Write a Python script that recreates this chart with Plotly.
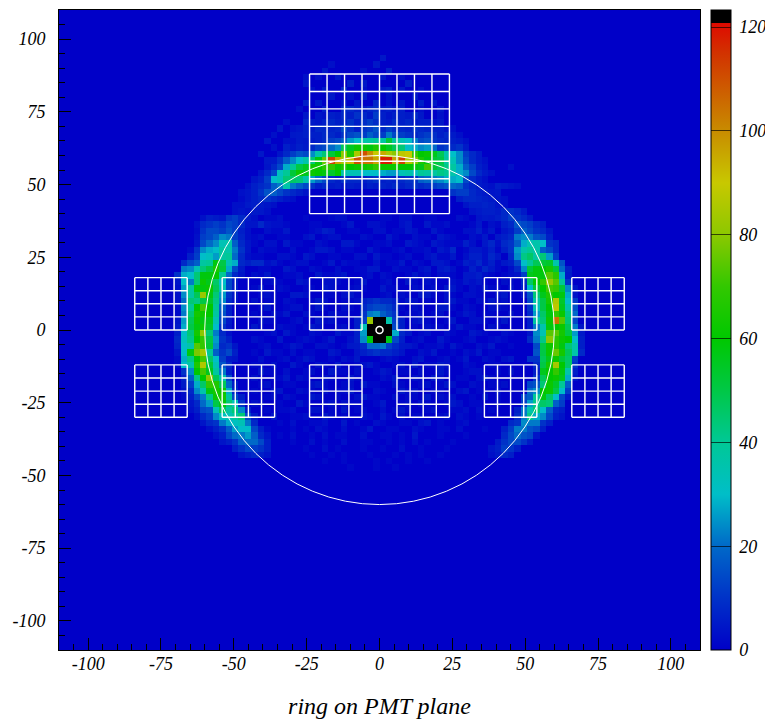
import plotly.graph_objects as go

N_BINS = 100
AXIS_MIN, AXIS_MAX = -110.0, 110.0
BIN_WIDTH = 2.2
Z_MAX = 123.3
RING_RADIUS = 60.0
CENTER_RADIUS = 1.2
COLORBAR_TICKS = [0, 20, 40, 60, 80, 100, 120]
AXIS_TICKS = [-100, -75, -50, -25, 0, 25, 50, 75, 100]
X_TITLE = "ring on PMT plane"

# row index: (first column, cell counts)
TOP_ARC = {
 84: (44, [5, 8, 6, 4, 7, 9, 5, 6, 4, 3]),
 83: (40, [4, 3, 6, 5, 8, 6, 10, 7, 5, 12, 6, 4, 3, 6, 5, 8, 4]),
 82: (38, [3, 5, 4, 6, 8, 5, 7, 10, 6, 8, 12, 9, 6, 5, 8, 6, 7, 5, 6, 4, 3]),
 81: (36, [3, 4, 6, 5, 8, 6, 7, 8, 14, 10, 6, 10, 12, 16, 8, 12, 9, 8, 7, 10, 8, 7, 6, 5, 4]),
 80: (36, [4, 5, 3, 6, 6, 8, 8, 6, 10, 14, 16, 12, 18, 14, 12, 22, 14, 12, 10, 8, 10, 12, 9, 6, 8, 5, 3]),
 79: (36, [3, 5, 4, 5, 6, 8, 12, 14, 18, 26, 30, 36, 38, 40, 38, 52, 38, 34, 30, 22, 14, 16, 10, 8, 7, 6, 5, 3]),
 78: (35, [3, 4, 6, 5, 8, 12, 14, 20, 24, 48, 55, 62, 62, 58, 66, 60, 55, 48, 44, 30, 28, 24, 26, 20, 10, 12, 8, 10, 5]),
 77: (34, [4, 8, 12, 16, 14, 24, 36, 44, 52, 60, 80, 65, 85, 110, 100, 90, 95, 85, 80, 88, 90, 70, 60, 62, 56, 48, 36, 30, 24, 12, 8, 5]),
 76: (33, [5, 10, 18, 24, 30, 36, 44, 58, 76, 112, 96, 84, 92, 110, 104, 104, 96, 118, 118, 96, 112, 86, 78, 66, 58, 52, 50, 38, 34, 24, 14, 8, 5, 3]),
 75: (32, [4, 8, 14, 28, 40, 50, 55, 62, 62, 68, 70, 62, 66, 60, 62, 62, 64, 70, 62, 62, 62, 60, 60, 58, 56, 72, 52, 48, 42, 38, 28, 18, 12, 6, 4]),
 74: (31, [4, 8, 14, 32, 40, 52, 62, 56, 62, 60, 58, 54, 60, 36, 34, 34, 30, 30, 30, 28, 26, 26, 34, 36, 32, 40, 38, 38, 42, 40, 36, 28, 24, 14, 8, 5, 3]),
 73: (30, [4, 6, 12, 30, 34, 44, 46, 44, 36, 26, 20, 14, 8, 6, 10, 8, 8, 6, 8, 10, 6, 7, 6, 8, 10, 10, 18, 20, 22, 24, 28, 28, 30, 14, 8, 5, 3]),
 72: (29, [3, 6, 8, 10, 18, 22, 36, 22, 18, 14, 10, 6, 8, 5, 6, 4, 6, 5, 4, 6, 5, 7, 6, 8, 6, 8, 10, 8, 10, 12, 14, 16, 20, 18, 10, 7, 5, 4, 3]),
 71: (28, [3, 4, 6, 10, 16, 18, 14, 10, 8, 6, 4]),
 70: (28, [2, 4, 6, 8, 10, 8, 6, 4, 3]),
 69: (27, [3, 3, 5, 6, 5, 4, 3]),
 68: (27, [3, 4, 3, 5, 3, 3]),
}
TOP_ARC_RIGHT_TAIL = {
 72: (68, [6, 5, 4, 3]),
 71: (61, [10, 12, 12, 8, 6, 5, 4, 3]),
 70: (62, [6, 8, 8, 7, 6, 5, 4, 3]),
 69: (63, [4, 6, 6, 7, 6, 4, 3]),
 68: (64, [4, 5, 6, 6, 5, 4, 3]),
 67: (65, [4, 5, 4, 6, 5, 4, 3]),
}
LEFT_ARC = {
 67: (22, [3, 6, 5, 4, 10, 12, 8, 5, 3]),
 66: (21, [3, 8, 10, 12, 10, 14, 12, 8, 4, 4, 8, 4]),
 65: (21, [2, 10, 14, 14, 12, 16, 12, 6, 3]),
 64: (21, [3, 12, 14, 18, 24, 22, 12, 7, 3]),
 63: (21, [4, 14, 20, 24, 34, 36, 18, 8, 4]),
 62: (20, [2, 10, 24, 28, 30, 38, 36, 22, 10, 4]),
 61: (20, [6, 12, 30, 32, 26, 38, 40, 20, 8, 3]),
 60: (19, [8, 14, 18, 38, 40, 58, 50, 34, 28, 8, 6, 8, 8, 3]),
 59: (19, [22, 24, 34, 44, 50, 64, 52, 28, 14, 5]),
 58: (18, [10, 28, 30, 44, 58, 58, 60, 40, 20, 8, 4]),
 57: (18, [4, 30, 22, 44, 62, 56, 46, 30, 14, 6]),
 56: (18, [3, 26, 38, 58, 58, 62, 48, 34, 14, 6]),
 55: (18, [3, 24, 38, 48, 82, 58, 44, 26, 10, 5]),
 54: (18, [3, 20, 44, 42, 50, 54, 42, 24, 8, 4]),
 53: (18, [2, 24, 40, 60, 72, 60, 40, 18, 6]),
 52: (18, [2, 22, 44, 64, 62, 60, 38, 16, 6]),
 51: (18, [4, 26, 48, 62, 58, 56, 34, 14, 5]),
 50: (18, [5, 28, 50, 58, 62, 54, 30, 10, 4]),
 49: (18, [6, 30, 44, 64, 80, 44, 22, 8, 3]),
 48: (18, [8, 32, 42, 60, 70, 50, 26, 10, 6]),
 47: (18, [7, 30, 36, 74, 70, 52, 24, 8, 10, 4]),
 46: (18, [4, 30, 58, 78, 84, 40, 18, 10, 14, 6]),
 45: (18, [2, 28, 42, 60, 72, 46, 30, 12, 5, 4]),
 44: (18, [2, 30, 36, 66, 86, 52, 34, 16, 8]),
 43: (19, [10, 24, 60, 72, 56, 38, 22, 6]),
 42: (19, [6, 18, 42, 60, 80, 48, 36, 14]),
 41: (19, [5, 12, 28, 46, 70, 66, 48, 20, 6]),
 40: (19, [3, 8, 24, 36, 58, 64, 62, 28, 8]),
 39: (19, [2, 6, 14, 22, 42, 62, 64, 38, 14, 6]),
 38: (20, [4, 8, 20, 26, 50, 58, 44, 34, 10]),
 37: (20, [3, 6, 14, 16, 34, 48, 38, 44, 24, 6]),
 36: (21, [3, 8, 12, 24, 32, 34, 38, 44, 14, 5]),
 35: (22, [4, 8, 10, 22, 28, 32, 34, 22, 8]),
 34: (23, [3, 6, 10, 18, 26, 30, 30, 14, 6]),
 33: (24, [3, 6, 14, 20, 22, 26, 18, 8, 4]),
 32: (25, [4, 6, 10, 18, 20, 20, 14, 6]),
 31: (27, [6, 10, 14, 12, 10, 6]),
 30: (28, [4, 6, 8, 6, 4]),
}
RIGHT_ARC = {
 68: (68, [4, 8, 10, 8, 5]),
 67: (69, [8, 12, 10, 8, 5]),
 66: (69, [6, 8, 16, 14, 12, 8, 6]),
 65: (69, [4, 6, 12, 18, 14, 10, 8, 4]),
 64: (69, [6, 8, 22, 24, 22, 16, 14, 6]),
 63: (69, [8, 10, 18, 28, 34, 36, 30, 10, 8]),
 62: (69, [6, 10, 26, 36, 40, 36, 18, 14, 8]),
 61: (70, [8, 24, 42, 46, 38, 44, 26, 12]),
 60: (70, [6, 14, 30, 40, 48, 52, 54, 36, 16]),
 59: (71, [8, 24, 52, 58, 60, 64, 52, 20, 6]),
 58: (71, [4, 12, 56, 58, 58, 74, 68, 28, 5]),
 57: (72, [8, 46, 60, 70, 82, 74, 40, 10]),
 56: (72, [6, 30, 52, 60, 72, 70, 52, 24, 4]),
 55: (72, [4, 16, 44, 56, 66, 60, 58, 28, 4]),
 54: (73, [14, 38, 50, 64, 86, 54, 30, 12]),
 53: (73, [10, 34, 50, 60, 88, 56, 36, 16]),
 52: (73, [8, 26, 46, 58, 70, 62, 42, 20]),
 51: (73, [6, 38, 44, 62, 104, 74, 44, 14]),
 50: (73, [6, 22, 36, 58, 60, 62, 48, 22, 4]),
 49: (73, [4, 24, 34, 74, 74, 64, 50, 26, 5]),
 48: (73, [8, 22, 42, 80, 68, 62, 60, 30, 6]),
 47: (74, [14, 50, 62, 68, 58, 44, 36, 6]),
 46: (74, [16, 50, 62, 76, 64, 48, 36, 8]),
 45: (73, [10, 10, 48, 56, 62, 52, 46, 12]),
 44: (74, [8, 50, 64, 84, 60, 46, 10]),
 43: (74, [6, 56, 60, 70, 58, 36, 6]),
 42: (74, [10, 48, 60, 62, 56, 28, 4]),
 41: (73, [14, 16, 44, 62, 54, 40, 18]),
 40: (73, [20, 24, 60, 62, 50, 30, 12]),
 39: (72, [14, 18, 40, 58, 46, 30, 14, 5]),
 38: (72, [12, 26, 42, 46, 44, 18, 12]),
 37: (71, [6, 22, 36, 44, 30, 18, 8, 6]),
 36: (71, [8, 22, 42, 28, 24, 14, 6, 4]),
 35: (70, [8, 10, 24, 22, 22, 10, 6]),
 34: (69, [6, 12, 22, 22, 16, 14, 6]),
 33: (69, [8, 14, 20, 16, 14, 4]),
 32: (68, [5, 10, 14, 14, 10, 5]),
 31: (67, [4, 6, 12, 10, 6]),
 30: (67, [3, 5, 8, 6]),
}
CENTER_CELLS = {
 54: (47, [6, 8, 10, 8, 8, 6]),
 53: (47, [8, 12, 14, 14, 12, 8]),
 52: (47, [10, 22, 24, 18, 14, 10]),
 51: (46, [6, 12, 82, 130, 130, 36, 12, 6]),
 50: (46, [6, 34, 130, 130, 130, 130, 14, 6]),
 49: (46, [6, 26, 130, 130, 130, 130, 28, 8]),
 48: (46, [6, 24, 58, 130, 130, 56, 14, 6]),
 47: (46, [5, 8, 20, 20, 22, 12, 8, 5]),
 46: (46, [4, 6, 8, 10, 8, 8, 6, 4]),
}
# single-digit counts, columns 30..70, top row first
SPECKLE_TOP_ROW = 92
SPECKLE_FIRST_COL = 30
SPECKLE = [
 "00000000000000000000300000000000000000000",
 "00000000000020000003000000000000000000000",
 "00000000000300000200040000000000000000000",
 "00000000202003000000300200000000000000000",
 "00000000300000040300000040000000000000000",
 "00000000020300500200340300200000000000000",
 "00000000000030020400020003000000000000000",
 "00000000403000203005020300403000000000000",
 "00000002000400500302000400200300000000000",
 "00000000300020030500304020300200000000000",
 "00000200500304020600302050040300000000000",
 "00003002000500403002060300500402000000000",
 "00020030402003050204003020400300200000000",
 "00300200300402030500402030300200300000000",
 "00020400000000000000000000000000000000000",
 "03002000000000000000000000000000000000000",
 "00300000000000000000000000000000000000000",
 "00000000000000000000000000000000000000002",
 "00000000000000000000000000000000000000000",
 "00000000000000000000000000000000003000000",
 "00000000000000000000000000000000020000000",
 "00000000000000000000000000000000000000300",
 "30000000000000000000000000000000000000000",
 "00200000000000000000000000000000000000020",
 "03000000000000000000000000000000000003000",
 "00112000100012200000110220011000210013200",
 "01122100011000130022100230031120001302100",
 "00211300012430011002201132003100022413012",
 "12001100230122000210031002110321002130341",
 "10220311002100331001120032103211142035213",
 "02110020013320110031001201120325013324102",
 "11002210320011002203110120023113024425302",
 "20031012200130211002011302103320143524130",
 "01100320021002001133002110230342014253102",
 "21300112003112300120210013120221033421012",
 "00121003200221001300120031021002132310021",
 "13002100110320012100311002112033102131102",
 "01210033200110231000120210331021022100230",
 "20110210013200112021000132010023110213120",
 "01300122013100210110230102100331021002210",
 "10021300210021100000000011201200132011002",
 "02110012003120000000000002310013002210130",
 "31002110132001200000000001021101311002100",
 "00120310021003110000000230120021003210021",
 "21003001210130021000001301200310012001210",
 "01200132002210130211020032011203100213001",
 "10311020110032001201310200213001021301100",
 "02001201320010213000121002300120130021023",
 "11020031002103001231001203011320021001100",
 "03110200120031102001320110200310012200102",
 "20011302100210031000213002103200110231000",
 "01200110023100120311002100120132002101120",
 "10023002110201130002100312001100230110200",
 "00120210032001002311002011030212001030100",
 "21001003100120211001300120210013201100100",
 "00101120022010301100201310012001120201000",
 "00030011200310100210310201100120210100000",
 "10001020011200301002100110230100120000000",
 "00100010102100200130011002100110200010000",
 "00001020010201100200110103000100010000000",
 "00000010020100200110010102010001000000000",
 "00000000100201000100100200100010000000000",
 "00000000010010100010001010100100000000000",
 "00000000000100100001010010010000000000000",
 "00000000000000010001001000000000000000000",
]
LARGE_BLOCK = {"x0": -24.0, "y0": 40.0, "cell": 6.0, "cells": 8}
SMALL_BLOCK_X = [-84.0, -54.0, -24.0, 6.0, 36.0, 66.0]
SMALL_BLOCK_Y = [0.0, -30.0]
SMALL_CELL = 4.5
SMALL_CELLS = 4

COLOR_STOPS = [
 (0, "rgb(0,0,200)"), (10, "rgb(0,50,200)"), (20, "rgb(0,105,200)"),
 (30, "rgb(0,190,200)"), (40, "rgb(0,200,150)"), (50, "rgb(0,200,70)"),
 (60, "rgb(0,200,0)"), (70, "rgb(50,200,0)"), (80, "rgb(140,200,0)"),
 (90, "rgb(200,200,0)"), (100, "rgb(200,140,0)"), (115, "rgb(210,50,0)"),
 (120.7, "rgb(222,10,0)"), (120.8, "rgb(0,0,0)"), (Z_MAX, "rgb(0,0,0)"),
]

z = [[0.0] * N_BINS for _ in range(N_BINS)]


def put(table):
    for row, (first, values) in table.items():
        for k, v in enumerate(values):
            z[row][first + k] = max(z[row][first + k], v)


for i, text in enumerate(SPECKLE):
    for k, ch in enumerate(text):
        r = SPECKLE_TOP_ROW - i
        c = SPECKLE_FIRST_COL + k
        z[r][c] = max(z[r][c], int(ch) * 1.5)
for t in (TOP_ARC, TOP_ARC_RIGHT_TAIL, LEFT_ARC, RIGHT_ARC, CENTER_CELLS):
    put(t)


def block_lines(x0, y0, cell, n):
    xs, ys = [], []
    for k in range(n + 1):
        xs += [x0 + k * cell, x0 + k * cell, None, x0, x0 + n * cell, None]
        ys += [y0, y0 + n * cell, None, y0 + k * cell, y0 + k * cell, None]
    return xs, ys


gx, gy = block_lines(LARGE_BLOCK["x0"], LARGE_BLOCK["y0"], LARGE_BLOCK["cell"], LARGE_BLOCK["cells"])
for bx in SMALL_BLOCK_X:
    for by in SMALL_BLOCK_Y:
        a, b = block_lines(bx, by, SMALL_CELL, SMALL_CELLS)
        gx += a
        gy += b

FONT = "Liberation Serif"
tick_font = dict(family=FONT, size=18, color="black")

fig = go.Figure()
fig.add_trace(go.Heatmap(
    z=z, x0=AXIS_MIN + BIN_WIDTH / 2, dx=BIN_WIDTH, y0=AXIS_MIN + BIN_WIDTH / 2, dy=BIN_WIDTH,
    zmin=0, zmax=Z_MAX, hoverinfo="skip",
    colorscale=[[v / Z_MAX, c] for v, c in COLOR_STOPS],
    colorbar=dict(
        x=(711 - 59) / 641, xanchor="left", xpad=0, thickness=20, thicknessmode="pixels",
        y=0, yanchor="bottom", ypad=0, len=1, lenmode="fraction",
        tickmode="array", tickvals=COLORBAR_TICKS, ticktext=[f"\u2009<i>{v}</i>" for v in COLORBAR_TICKS],
        ticks="inside", ticklen=20, tickwidth=1, tickcolor="rgba(0,0,0,0.65)",
        tickfont=tick_font, outlinecolor="black", outlinewidth=1,
    ),
))
fig.add_trace(go.Scatter(x=gx, y=gy, mode="lines", line=dict(color="white", width=1.4),
                         hoverinfo="skip", showlegend=False))

fig.add_shape(type="circle", xref="x", yref="y", x0=-RING_RADIUS, x1=RING_RADIUS,
              y0=-RING_RADIUS, y1=RING_RADIUS, line=dict(color="white", width=1))
fig.add_shape(type="circle", xref="x", yref="y", x0=-CENTER_RADIUS, x1=CENTER_RADIUS,
              y0=-CENTER_RADIUS, y1=CENTER_RADIUS, line=dict(color="white", width=1.5))

axis = dict(
    range=[AXIS_MIN, AXIS_MAX], tickmode="array", tickvals=AXIS_TICKS,
    ticktext=[f"<i>{v}</i>" for v in AXIS_TICKS], ticks="inside", ticklen=12, tickwidth=1,
    tickcolor="black", tickfont=tick_font, showgrid=False, zeroline=False,
    showline=True, linecolor="black", linewidth=1, mirror=True,
    minor=dict(dtick=5, tick0=0, ticks="inside", ticklen=6, tickwidth=1, tickcolor="black", showgrid=False),
    layer="above traces",
)
fig.update_layout(
    width=765, height=719, showlegend=False,
    paper_bgcolor="white", plot_bgcolor="rgb(0,0,200)",
    margin=dict(l=59, r=65, t=10, b=69, autoexpand=False),
    xaxis=dict(axis, ticklabelstandoff=-3,
               title=dict(text=f"<i>{X_TITLE}</i>", font=dict(family=FONT, size=24, color="black"), standoff=25)),
    yaxis=dict(axis, ticklabelstandoff=9),
)
fig.write_html("out.html", config={"displayModeBar": False},
               post_script="document.body.style.margin='0';document.body.style.overflow='hidden';")
